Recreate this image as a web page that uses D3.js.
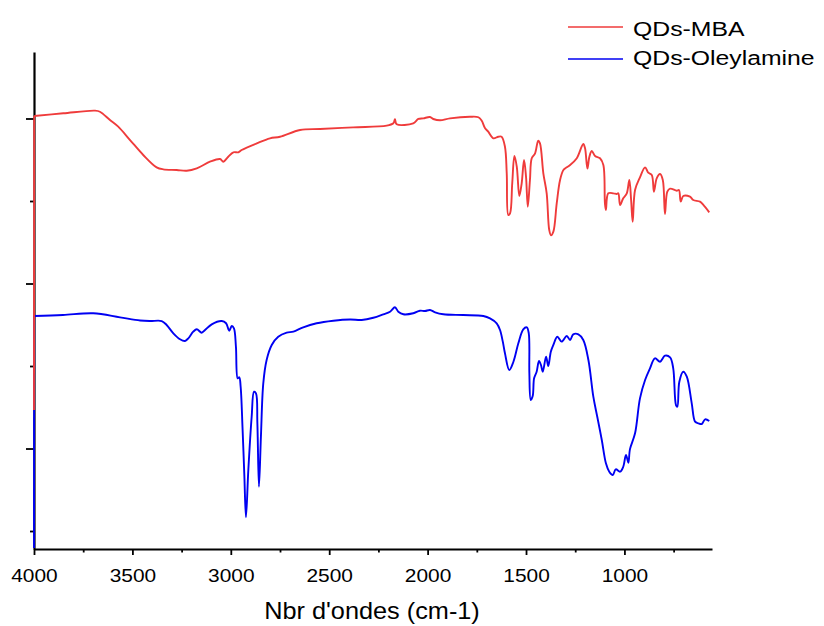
<!DOCTYPE html>
<html>
<head>
<meta charset="utf-8">
<script src="https://cdn.jsdelivr.net/npm/d3@7"></script>
<style>
  html, body { margin: 0; padding: 0; background: #fff; }
  svg { display: block; font-family: "Liberation Sans", Arial, sans-serif; }
</style>
</head>
<body>
<svg id="chart" width="824" height="626"></svg>
<script>
// ---- Data (wavenumber cm-1, transmittance arbitrary units) ----
const seriesNames = ["QDs-MBA", "QDs-Oleylamine"];
const seriesColors = ["#ef3b3b", "#0000f2"];

const mbaWave = [4000,3999,3851,3690,3665,3614,3572,3512,3445,3377,3343,3275,3224,3173,3106,3055,3038,3013,2987,2962,2945,2868,2801,2750,2648,2547,2378,2208,2174,2166,2157,2073,2047,2022,1988,1971,1937,1886,1785,1742,1725,1708,1692,1666,1641,1624,1607,1598,1590,1581,1570,1559,1547,1534,1522,1510,1500,1491,1480,1471,1454,1438,1429,1412,1395,1382,1373,1361,1344,1327,1310,1293,1276,1242,1209,1200,1188,1178,1166,1149,1124,1107,1099,1094,1082,1056,1039,1031,1022,1006,988,975,966,958,946,921,895,879,861,850,836,819,805,794,782,768,734,723,714,701,667,650,616,599,569];
const mbaValue = [14.67,50.30,50.63,50.95,50.82,49.82,49.01,47.39,45.58,44.08,43.84,43.76,43.67,43.96,44.76,45.09,44.76,45.37,45.90,45.90,46.18,46.99,47.60,47.79,48.61,48.73,48.93,49.13,49.42,49.90,49.30,49.42,49.94,50.02,50.18,49.94,49.78,50.02,50.21,50.15,49.73,48.81,48.40,47.60,47.79,47.79,46.58,43.36,38.30,38.51,42.15,45.45,44.16,40.61,42.15,44.97,42.95,39.31,42.55,45.18,45.78,47.31,46.99,43.36,40.93,36.48,35.84,36.28,39.72,42.55,43.76,44.08,44.36,45.18,46.91,46.39,43.92,45.37,46.06,45.45,45.18,44.36,39.72,38.91,40.93,40.93,40.85,40.93,39.52,40.33,40.93,42.55,40.12,37.49,41.33,42.87,44.08,43.43,43.15,41.13,42.75,43.27,42.55,38.42,41.13,41.49,41.25,41.33,39.92,40.61,40.52,40.12,39.92,39.52,38.63];

const oleWave = [4000,3999,3853,3699,3563,3461,3411,3351,3326,3292,3258,3233,3216,3191,3173,3148,3131,3097,3046,3024,3008,2995,2984,2974,2965,2957,2950,2940,2931,2923,2911,2894,2882,2872,2865,2857,2847,2835,2818,2792,2759,2716,2682,2632,2564,2479,2394,2335,2276,2225,2191,2166,2149,2123,2073,2039,2013,1988,1962,1920,1819,1717,1683,1649,1632,1618,1607,1585,1564,1539,1514,1496,1486,1483,1476,1466,1459,1446,1434,1424,1415,1398,1387,1374,1361,1341,1319,1293,1276,1260,1234,1209,1183,1158,1138,1115,1094,1077,1059,1044,1022,1006,992,980,972,946,921,895,870,845,819,794,768,752,738,731,721,701,683,658,641,624,607,590,569];
const oleValue = [-2.06,26.06,26.18,26.39,25.90,25.52,25.45,25.45,24.97,23.96,23.24,23.03,23.36,24.16,24.45,24.04,24.36,25.05,25.45,25.18,24.28,24.85,24.57,22.34,18.51,18.63,17.49,12.24,6.58,1.66,7.39,13.85,16.88,16.69,13.05,5.37,11.43,17.90,20.73,22.55,23.55,24.04,24.16,24.69,25.18,25.49,25.64,25.58,25.85,26.27,26.58,27.12,26.58,26.27,26.39,26.70,26.67,26.79,26.51,26.27,26.18,26.06,25.78,25.18,24.36,22.95,21.54,19.52,20.52,22.75,24.45,24.69,23.96,19.12,15.88,16.36,18.51,19.31,20.61,20.12,19.31,21.13,20.00,21.73,22.55,23.55,22.95,23.64,23.15,23.84,23.84,23.15,20.73,16.28,13.85,11.03,8.21,7.19,6.79,7.48,7.19,7.79,9.21,8.28,9.90,11.84,16.08,18.30,19.72,20.93,20.52,21.25,21.05,19.72,15.27,15.07,18.10,19.31,18.70,15.48,13.25,13.05,12.97,13.54,13.33];

const xMajorTicks = [4000,3500,3000,2500,2000,1500,1000];
const xMinorTicks = [3750,3250,2750,2250,1750,1250,750];
const yMajorTicks = [10,30,50];
const yMinorTicks = [0,20,40];
const xTitle = "Nbr d'ondes (cm-1)";

// ---- Layout ----
const svg = d3.select("#chart");
const plotLeft = 34, plotRight = 712, plotTop = 52, plotBottom = 549;
const x = d3.scaleLinear().domain([4000, 555]).range([plotLeft, plotRight]);
const y = d3.scaleLinear().domain([-2.18, 58.06]).range([plotBottom, plotTop]);

const seriesData = [
  d3.zip(mbaWave, mbaValue),
  d3.zip(oleWave, oleValue)
];
const smoothLine = d3.line()
  .x(d => x(d[0]))
  .y(d => y(d[1]))
  .curve(d3.curveCatmullRom.alpha(0.5));
const straightLine = d3.line()
  .x(d => x(d[0]))
  .y(d => y(d[1]));

// X axis
const xAxis = svg.append("g").attr("transform", `translate(0,${plotBottom})`)
  .call(d3.axisBottom(x).tickValues(xMajorTicks).tickSize(6).tickSizeOuter(0).tickFormat(d3.format("d")));
xAxis.select(".domain").attr("stroke", "#000").attr("stroke-width", 2.2);
xAxis.selectAll(".tick line").attr("stroke", "#000").attr("stroke-width", 1.8);
xAxis.selectAll(".tick text")
  .attr("y", 33).attr("dy", null)
  .attr("font-size", 19)
  .attr("fill", "#000")
  .attr("font-family", "Liberation Sans, Arial, sans-serif")
  .attr("transform", "scale(1.1,1)");
const xMinor = svg.append("g").attr("transform", `translate(0,${plotBottom})`)
  .call(d3.axisBottom(x).tickValues(xMinorTicks).tickSize(3.5).tickSizeOuter(0).tickFormat(""));
xMinor.select(".domain").remove();
xMinor.selectAll(".tick line").attr("stroke", "#000").attr("stroke-width", 1.8);

// Y axis
const yAxis = svg.append("g").attr("transform", `translate(${plotLeft},0)`)
  .call(d3.axisLeft(y).tickValues(yMajorTicks).tickSize(8).tickSizeOuter(0).tickFormat(""));
yAxis.select(".domain").attr("stroke", "#000").attr("stroke-width", 2.2);
yAxis.selectAll(".tick line").attr("stroke", "#000").attr("stroke-width", 1.8);
const yMinor = svg.append("g").attr("transform", `translate(${plotLeft},0)`)
  .call(d3.axisLeft(y).tickValues(yMinorTicks).tickSize(4).tickSizeOuter(0).tickFormat(""));
yMinor.select(".domain").remove();
yMinor.selectAll(".tick line").attr("stroke", "#000").attr("stroke-width", 1.8);

// Spectra (blue first, red on top)
[1, 0].forEach(i => {
  const g = svg.append("g")
    .attr("fill", "none")
    .attr("stroke", seriesColors[i])
    .attr("stroke-width", 1.9)
    .attr("stroke-linejoin", "round");
  g.append("path").datum(seriesData[i].slice(0, 2)).attr("d", straightLine);
  g.append("path").datum(seriesData[i].slice(1)).attr("d", smoothLine);
});

// X title
svg.append("text")
  .attr("transform", `translate(372,619) scale(1.1,1)`)
  .attr("text-anchor", "middle")
  .attr("font-size", 23)
  .attr("fill", "#000")
  .text(xTitle);

// Legend
const legendRows = [{lineY: 27, textY: 36}, {lineY: 59, textY: 65}];
seriesNames.forEach((name, i) => {
  const g = svg.append("g");
  g.append("line")
    .attr("x1", 568).attr("x2", 623)
    .attr("y1", legendRows[i].lineY).attr("y2", legendRows[i].lineY)
    .attr("stroke", seriesColors[i]).attr("stroke-width", 1.6);
  g.append("text")
    .attr("transform", `translate(633,${legendRows[i].textY}) scale(1.18,1)`)
    .attr("font-size", 21)
    .attr("fill", "#000")
    .text(name);
});
</script>
</body>
</html>
